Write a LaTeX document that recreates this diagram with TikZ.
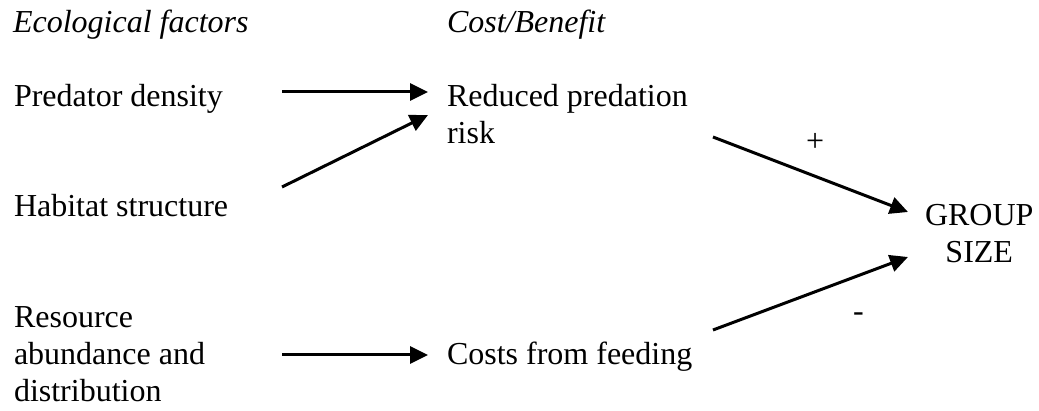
\documentclass[tikz,border=0pt]{standalone}
\usepackage{fontspec}
\setmainfont{Liberation Serif}
\usetikzlibrary{arrows.meta}
\begin{document}
\begin{tikzpicture}[x=1pt,y=-1pt,
  lbl/.style={anchor=base west,inner sep=0pt,outer sep=0pt,align=left,font=\fontsize{32}{37}\selectfont},
  conn/.style={line width=3pt,-{Triangle[length=18pt,width=17pt]}}]
\useasboundingbox (0,0) rectangle (1039,411);
\node[lbl] (hd1) at (13,33) {\itshape Ecological factors};
\node[lbl] (hd2) at (447,33) {\itshape Cost/Benefit};
\node[lbl] (pd) at (14,107) {Predator density};
\node[lbl] (hs) at (14,217) {Habitat structure};
\node[lbl] (ra) at (14,402) {Resource\\abundance and\\distribution};
\node[lbl] (rp) at (447,144) {Reduced predation\\risk};
\node[lbl] (cf) at (447,365) {Costs from feeding};
\node[lbl,align=center] (gs) at (925,263) {GROUP\\SIZE};
\node[lbl] (plus) at (806,152) {+};
\node[lbl] (minus) at (853,322) {-};
\coordinate (a1s) at (282,92);
\coordinate (a1e) at (428,92);
\coordinate (a2s) at (282,187);
\coordinate (a2e) at (428,115);
\coordinate (a3s) at (282,355);
\coordinate (a3e) at (428,355);
\coordinate (a4s) at (713,137);
\coordinate (a4e) at (908,212);
\coordinate (a5s) at (713,330);
\coordinate (a5e) at (908,257);
\draw[conn] (a1s) -- (a1e);
\draw[conn] (a2s) -- (a2e);
\draw[conn] (a3s) -- (a3e);
\draw[conn] (a4s) -- (a4e);
\draw[conn] (a5s) -- (a5e);
\end{tikzpicture}
\end{document}
